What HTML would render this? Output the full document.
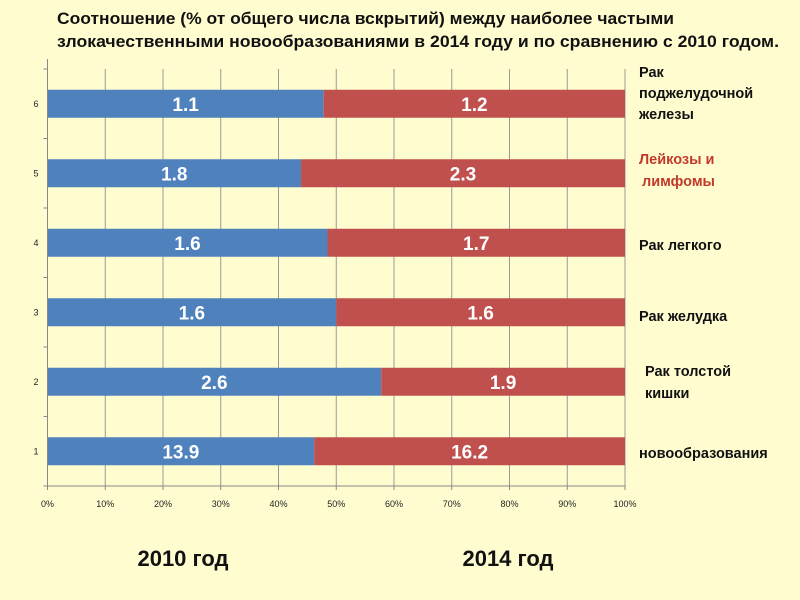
<!DOCTYPE html>
<html><head><meta charset="utf-8"><style>
body{margin:0;background:#FFFDD0;}
svg{display:block;font-family:"Liberation Sans","DejaVu Sans",sans-serif;}
</style></head><body>
<svg id="c" width="800" height="600">
<rect width="800" height="600" fill="#FFFDD0"/>
<text x="57" y="24" font-size="16.5" font-weight="bold" fill="#111" textLength="617" lengthAdjust="spacingAndGlyphs">Соотношение (% от общего числа вскрытий) между наиболее частыми</text>
<text x="57" y="47" font-size="16.5" font-weight="bold" fill="#111" textLength="722" lengthAdjust="spacingAndGlyphs">злокачественными новообразованиями  в 2014 году и по сравнению с 2010 годом.</text>
<g id="grid"></g><g id="bars"></g><g id="axes"></g>
<g font-size="14.5" font-weight="bold" fill="#111">
<text x="639" y="77">Рак</text>
<text x="639" y="98">поджелудочной</text>
<text x="639" y="119">железы</text>
<text x="639" y="164" fill="#C0392B">Лейкозы и</text>
<text x="642" y="186" fill="#C0392B">лимфомы</text>
<text x="639" y="250">Рак легкого</text>
<text x="639" y="321">Рак желудка</text>
<text x="645" y="376">Рак  толстой</text>
<text x="645" y="398">кишки</text>
<text x="639" y="458">новообразования</text>
</g>
<text x="183" y="566" font-size="22" font-weight="bold" text-anchor="middle" fill="#111">2010 год</text>
<text x="508" y="566" font-size="22" font-weight="bold" text-anchor="middle" fill="#111">2014 год</text>
</svg>
<script>
const categories=["1","2","3","4","5","6"];
const values2010=[13.9,2.6,1.6,1.6,1.8,1.1];
const values2014=[16.2,1.9,1.6,1.7,2.3,1.2];
const xTicks=[0,10,20,30,40,50,60,70,80,90,100];
const NS="http://www.w3.org/2000/svg";
const X0=47.5,X1=625,YT=69,YB=486;
const band=(YB-YT)/categories.length;
const xs=p=>X0+(X1-X0)*p/100;
const yc=i=>YB-band*(i+0.5);
function mk(tag,attrs,parent){const e=document.createElementNS(NS,tag);for(const k in attrs)e.setAttribute(k,attrs[k]);document.getElementById(parent).appendChild(e);return e;}
xTicks.forEach(t=>{
 const g=mk('line',{x1:xs(t),x2:xs(t),y1:YT,y2:YB,stroke:'#999','stroke-width':1},'grid');
 
 
 const tk=mk('line',{x1:xs(t),x2:xs(t),y1:YB,y2:YB+4,stroke:'#888'},'axes');
 
 
 const tx=mk('text',{x:xs(t),y:YB+21,'font-size':9,'text-anchor':'middle',fill:'#222'},'axes');
 tx.textContent=t+'%';
 
 
});
const ax=mk('line',{x1:X0,x2:X0,y1:YT-10,y2:YB,stroke:'#888'},'axes');


const bx=mk('line',{x1:X0,x2:X1,y1:YB,y2:YB,stroke:'#888'},'axes');


for(let i=0;i<=categories.length;i++){
 const y=YB-band*i;
 const t=mk('line',{x1:X0-4,x2:X0,y1:y,y2:y,stroke:'#888'},'axes');
 
 
}
categories.forEach((c,i)=>{
 const y=yc(i),h=28,tot=values2010[i]+values2014[i];
 const p1=values2010[i]/tot*100;
 const r1=mk('rect',{x:xs(0),y:y-h/2,width:xs(p1)-xs(0),height:h,fill:'#4F81BD'},'bars');
 
 
 const r2=mk('rect',{x:xs(p1),y:y-h/2,width:xs(100)-xs(p1),height:h,fill:'#C0504D'},'bars');
 
 
 const l1=mk('text',{x:(xs(0)+xs(p1))/2,y:y+7,'font-size':19,'font-weight':'bold','text-anchor':'middle',fill:'#fff'},'bars');
 l1.textContent=values2010[i];
 
 
 const l2=mk('text',{x:(xs(p1)+xs(100))/2,y:y+7,'font-size':19,'font-weight':'bold','text-anchor':'middle',fill:'#fff'},'bars');
 l2.textContent=values2014[i];
 
 
 const cl=mk('text',{x:36,y:y+3,'font-size':9,'text-anchor':'middle',fill:'#222'},'axes');
 cl.textContent=c;
 
 
});
</script>
</body></html>
